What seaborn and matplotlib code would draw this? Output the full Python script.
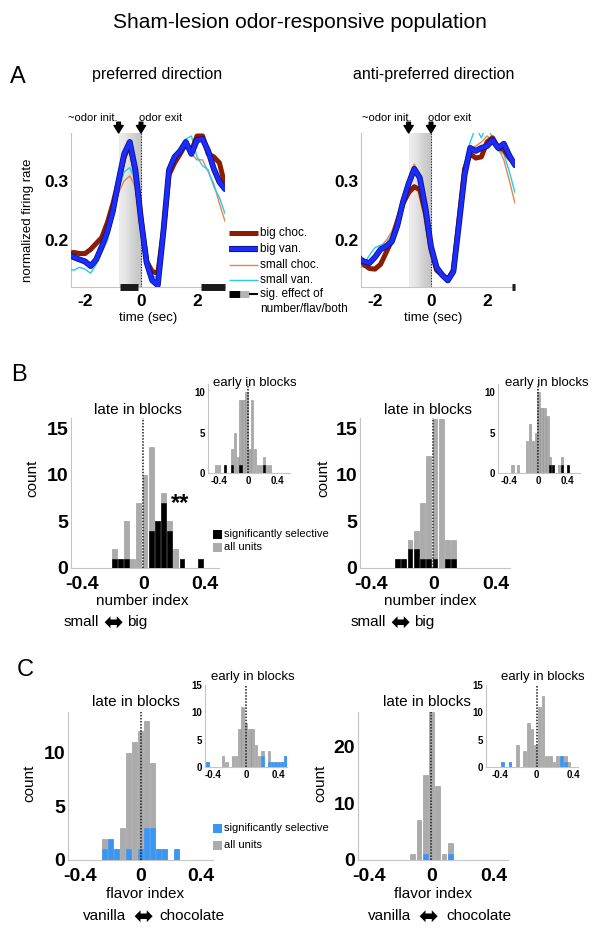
import numpy as np
import pandas as pd
import seaborn as sns
import matplotlib
matplotlib.use('Agg')
import matplotlib.pyplot as plt
from matplotlib.lines import Line2D
from matplotlib.patches import Rectangle
from matplotlib.colors import LinearSegmentedColormap
import matplotlib.patheffects as pe

# ---------------- data: panel A (normalized firing rate vs time) ----------------
time_s = [-2.6, -2.4, -2.2, -2.0, -1.8, -1.6, -1.4, -1.2, -1.0, -0.8, -0.6, -0.4, -0.2, 0.0,
          0.2, 0.4, 0.6, 0.8, 1.0, 1.2, 1.4, 1.6, 1.8, 2.0, 2.2, 2.4, 2.6, 2.8, 3.0]

pref_big_choc = [0.178, 0.180, 0.178, 0.178, 0.185, 0.195, 0.205, 0.230, 0.262, 0.300, 0.340, 0.360,
                 0.315, 0.235, 0.165, 0.148, 0.145, 0.215, 0.310, 0.330, 0.345, 0.362, 0.350, 0.375,
                 0.375, 0.345, 0.340, 0.330, 0.292]
pref_big_van = [0.177, 0.172, 0.168, 0.165, 0.157, 0.168, 0.190, 0.215, 0.250, 0.300, 0.345, 0.365,
                0.318, 0.235, 0.163, 0.133, 0.125, 0.215, 0.318, 0.340, 0.350, 0.365, 0.345, 0.368,
                0.370, 0.350, 0.320, 0.298, 0.286]
pref_small_choc = [0.170, 0.168, 0.165, 0.160, 0.155, 0.165, 0.185, 0.210, 0.245, 0.280, 0.300, 0.308,
                   0.290, 0.225, 0.160, 0.130, 0.128, 0.210, 0.305, 0.330, 0.345, 0.360, 0.345, 0.335,
                   0.335, 0.315, 0.295, 0.262, 0.232]
pref_small_van = [0.152, 0.150, 0.155, 0.152, 0.145, 0.160, 0.180, 0.200, 0.240, 0.285, 0.315, 0.322,
                  0.300, 0.230, 0.170, 0.140, 0.138, 0.215, 0.310, 0.335, 0.355, 0.370, 0.375, 0.340,
                  0.325, 0.318, 0.290, 0.272, 0.245]

anti_big_choc = [0.175, 0.160, 0.153, 0.152, 0.160, 0.180, 0.200, 0.232, 0.262, 0.280, 0.290, 0.285,
                 0.245, 0.185, 0.150, 0.142, 0.135, 0.150, 0.235, 0.320, 0.345, 0.338, 0.340, 0.365,
                 0.372, 0.355, 0.352, 0.338, 0.328]
anti_big_van = [0.170, 0.165, 0.162, 0.172, 0.185, 0.190, 0.198, 0.225, 0.265, 0.295, 0.320, 0.305,
                0.255, 0.190, 0.155, 0.142, 0.133, 0.148, 0.228, 0.310, 0.355, 0.350, 0.355, 0.358,
                0.368, 0.355, 0.362, 0.342, 0.326]
anti_small_choc = [0.158, 0.155, 0.162, 0.175, 0.190, 0.200, 0.215, 0.240, 0.270, 0.300, 0.328, 0.310,
                   0.258, 0.190, 0.155, 0.148, 0.138, 0.150, 0.235, 0.320, 0.352, 0.358, 0.365, 0.375,
                   0.368, 0.355, 0.335, 0.300, 0.262]
anti_small_van = [0.150, 0.160, 0.175, 0.188, 0.192, 0.195, 0.210, 0.235, 0.265, 0.295, 0.320, 0.310,
                  0.255, 0.190, 0.152, 0.145, 0.138, 0.150, 0.240, 0.330, 0.365, 0.390, 0.372, 0.395,
                  0.370, 0.350, 0.345, 0.315, 0.280]

# significant-effect epochs (sec)
pref_sig_epochs = [(-0.75, -0.1), (2.15, 3.0)]
anti_sig_epochs = [(2.88, 3.0)]

# ---------------- data: panels B/C (histograms, bin centre / counts) ----------------
num_late_pref_bins = [-0.19, -0.15, -0.11, -0.07, -0.03, 0.01, 0.05, 0.09, 0.13, 0.17, 0.21, 0.25, 0.37]
num_late_pref_all = [2, 1, 5, 1, 7, 10, 13, 5, 8, 5, 2, 1, 1]
num_late_pref_sig = [1, 1, 1, 0, 0, 0, 4, 5, 7, 4, 0, 1, 1]

num_early_pref_bins = [-0.44, -0.40, -0.32, -0.22, -0.18, -0.14, -0.10, -0.06, -0.02, 0.02, 0.06,
                       0.10, 0.14, 0.18, 0.22, 0.26, 0.30]
num_early_pref_all = [1, 1, 1, 3, 5, 2, 9, 9, 10, 3, 9, 3, 1, 1, 2, 1, 1]
num_early_pref_sig = [0, 0, 1, 1, 0, 0, 1, 0, 0, 0, 0, 0, 0, 0, 1, 0, 0]

num_late_anti_bins = [-0.23, -0.19, -0.15, -0.11, -0.07, -0.03, 0.01, 0.05, 0.09, 0.13]
num_late_anti_all = [1, 1, 3, 4, 7, 12, 16, 16, 3, 3]
num_late_anti_sig = [1, 1, 2, 2, 1, 1, 1, 0, 1, 1]

num_early_anti_bins = [-0.35, -0.27, -0.15, -0.11, -0.07, -0.03, 0.01, 0.05, 0.09, 0.13, 0.17,
                       0.21, 0.29, 0.33, 0.41]
num_early_anti_all = [1, 1, 4, 6, 4, 5, 10, 8, 8, 7, 2, 1, 1, 2, 1]
num_early_anti_sig = [0, 0, 0, 0, 0, 0, 0, 0, 0, 0, 1, 1, 0, 1, 1]

flav_late_pref_bins = [-0.24, -0.20, -0.16, -0.12, -0.08, -0.04, 0.00, 0.04, 0.08, 0.12, 0.16, 0.24]
flav_late_pref_all = [2, 2, 1, 3, 10, 11, 12, 13, 9, 1, 1, 1]
flav_late_pref_sig = [1, 2, 1, 0, 1, 0, 1, 3, 3, 1, 1, 1]

flav_early_pref_bins = [-0.47, -0.28, -0.24, -0.16, -0.12, -0.08, -0.04, 0.00, 0.04, 0.08, 0.12,
                        0.16, 0.20, 0.28, 0.32, 0.36, 0.40, 0.44, 0.48]
flav_early_pref_all = [1, 2, 1, 2, 2, 7, 11, 8, 7, 7, 4, 2, 3, 3, 1, 1, 1, 1, 2]
flav_early_pref_sig = [1, 0, 0, 0, 0, 0, 0, 0, 0, 0, 0, 0, 2, 1, 1, 1, 1, 1, 2]

flav_late_anti_bins = [-0.12, -0.08, -0.04, 0.00, 0.04, 0.08, 0.12]
flav_late_anti_all = [1, 7, 15, 26, 13, 1, 3]
flav_late_anti_sig = [0, 0, 1, 0, 0, 0, 1]

flav_early_anti_bins = [-0.37, -0.29, -0.21, -0.13, -0.09, -0.05, -0.01, 0.03, 0.07, 0.11, 0.15,
                        0.19, 0.23, 0.27, 0.31, 0.35]
flav_early_anti_all = [1, 1, 4, 3, 8, 7, 4, 11, 13, 2, 2, 1, 2, 2, 2, 1]
flav_early_anti_sig = [1, 1, 0, 0, 0, 0, 0, 0, 0, 0, 0, 0, 0, 2, 1, 0]

# ---------------- style ----------------
sns.set_theme(style='white')
plt.rcParams['font.family'] = ['Liberation Sans', 'DejaVu Sans']
plt.rcParams.update({'text.color': 'black', 'axes.labelcolor': 'black',
                     'xtick.color': 'black', 'ytick.color': 'black'})

W, H = 601, 931
BROWN = '#8a1c02'
BLUE = '#1c2bff'
NAVY = '#0a1680'
ORANGE = '#e8844a'
CYAN = '#27c8f2'
ALL_GRAY = '#ababab'
SIG_BLUE = '#3a96f5'
SPINE = '#c4c4c4'


def fx(px):
    return px / W


def fy(py):
    return 1 - py / H


fig = plt.figure(figsize=(W / 100, H / 100), dpi=100)


def add_ax(left, top, right, bottom):
    return fig.add_axes([left / W, 1 - bottom / H, (right - left) / W, (bottom - top) / H])


def style_spines(ax):
    for s in ['top', 'right']:
        ax.spines[s].set_visible(False)
    for s in ['left', 'bottom']:
        ax.spines[s].set_color(SPINE)
        ax.spines[s].set_linewidth(0.8)


def bold_ticks(ax, size, xpad=2):
    ax.tick_params(labelsize=size, length=2, width=0.6, direction='in', color='#999999', pad=2)
    ax.tick_params(axis='x', pad=xpad)
    for t in ax.get_xticklabels() + ax.get_yticklabels():
        t.set_fontweight('bold')


# ---------------- panel A ----------------
shade = LinearSegmentedColormap.from_list('shade', ['#ededed', '#c5c5c5'])
YLIM_A = (0.122, 0.38)


def trace_panel(ax, series, sig_epochs):
    ax.imshow([[0, 1]], extent=[-0.8, 0, YLIM_A[0], YLIM_A[1]], cmap=shade, aspect='auto',
              interpolation='bicubic', zorder=0)
    ax.axvline(0, color='k', ls=(0, (1, 1.5)), lw=0.8, zorder=1)
    small_choc, small_van, big_choc, big_van = series
    sns.lineplot(x=time_s, y=small_choc, ax=ax, color=ORANGE, linewidth=1.0, zorder=3)
    sns.lineplot(x=time_s, y=small_van, ax=ax, color=CYAN, linewidth=1.0, zorder=3)
    sns.lineplot(x=time_s, y=big_choc, ax=ax, color=BROWN, linewidth=3.6, zorder=4)
    sns.lineplot(x=time_s, y=big_van, ax=ax, color=BLUE, linewidth=3.0, zorder=5,
                 path_effects=[pe.Stroke(linewidth=4.2, foreground=NAVY), pe.Normal()])
    ax.set_xlim(-2.5, 3.0)
    ax.set_ylim(*YLIM_A)
    ax.set_xticks([-2, 0, 2])
    ax.set_xticklabels(['-2', '0', '2'])
    ax.set_yticks([0.2, 0.3])
    ax.set_yticklabels(['0.2', '0.3'])
    style_spines(ax)
    bold_ticks(ax, 12.5, xpad=5)
    trans = ax.get_xaxis_transform()
    for a, b in sig_epochs:
        ax.plot([a, b], [0, 0], transform=trans, color='k', lw=5, solid_capstyle='butt',
                clip_on=False, zorder=6)
    for t in (-0.8, 0.0):
        ax.annotate('', xy=(t, 1.0), xycoords=trans, xytext=(t, 1.07), textcoords=trans,
                    arrowprops=dict(arrowstyle='simple,head_width=0.55,head_length=0.45,tail_width=0.22',
                                    color='black', shrinkA=0, shrinkB=0), annotation_clip=False)


axA1 = add_ax(71, 133, 225, 287)
trace_panel(axA1, [pref_small_choc, pref_small_van, pref_big_choc, pref_big_van], pref_sig_epochs)
axA2 = add_ax(361, 133, 515, 287)
trace_panel(axA2, [anti_small_choc, anti_small_van, anti_big_choc, anti_big_van], anti_sig_epochs)

fig.text(fx(300), fy(22), 'Sham-lesion odor-responsive population', fontsize=15, ha='center', va='center')
fig.text(fx(10), fy(77), 'A', fontsize=17, ha='left', va='center')
fig.text(fx(157), fy(75), 'preferred direction', fontsize=11.5, ha='center', va='center')
fig.text(fx(434), fy(75), 'anti-preferred direction', fontsize=11.5, ha='center', va='center')
fig.text(fx(28), fy(220), 'normalized firing rate', fontsize=9.5, rotation=90, ha='center', va='center')
fig.text(fx(148), fy(318), 'time (sec)', fontsize=9.5, ha='center', va='center')
fig.text(fx(433), fy(318), 'time (sec)', fontsize=9.5, ha='center', va='center')
fig.text(fx(93), fy(118), '~odor init.', fontsize=8, ha='center', va='center')
fig.text(fx(161), fy(118), 'odor exit', fontsize=8, ha='center', va='center')
fig.text(fx(387), fy(118), '~odor init.', fontsize=8, ha='center', va='center')
fig.text(fx(450), fy(118), 'odor exit', fontsize=8, ha='center', va='center')

# legend of panel A, drawn by hand
leg_rows = [('big choc.', 233, BROWN, 3.6, None),
            ('big van.', 249, BLUE, 3.0, [pe.Stroke(linewidth=4.4, foreground=NAVY), pe.Normal()]),
            ('small choc.', 265, ORANGE, 1.0, None),
            ('small van.', 280, CYAN, 1.0, None)]
for label, py, col, lw, eff in leg_rows:
    ln = Line2D([fx(229), fx(258)], [fy(py), fy(py)], transform=fig.transFigure, color=col, lw=lw,
                solid_capstyle='butt')
    if eff:
        ln.set_path_effects(eff)
    fig.add_artist(ln)
    fig.text(fx(260), fy(py), label, fontsize=8.5, ha='left', va='center')
for (a, b), col, lw in [((229, 240), 'black', 5), ((240, 249), '#b4b4b4', 5), ((249, 258), 'black', 1.5)]:
    fig.add_artist(Line2D([fx(a), fx(b)], [fy(294), fy(294)], transform=fig.transFigure, color=col,
                          lw=lw, solid_capstyle='butt'))
fig.text(fx(260), fy(294), 'sig. effect of', fontsize=8.5, ha='left', va='center')
fig.text(fx(260), fy(309), 'number/flav/both', fontsize=8.5, ha='left', va='center')


# ---------------- panels B and C ----------------
def draw_hist(ax, bins, all_c, sig_c, sig_color, width, xlim, ylim, yticks, size, xpad=2):
    ax.bar(bins, all_c, width=width, color=ALL_GRAY, edgecolor='#929292', linewidth=0.4, zorder=2)
    ax.bar(bins, sig_c, width=width, color=sig_color, edgecolor=sig_color, linewidth=0.4, zorder=3)
    ax.axvline(0, color='k', ls=(0, (1, 1)), lw=1.1, zorder=4)
    ax.set_xlim(*xlim)
    ax.set_ylim(*ylim)
    ax.set_xticks([-0.4, 0, 0.4])
    ax.set_xticklabels(['-0.4', '0', '0.4'])
    ax.set_yticks(yticks)
    ax.set_yticklabels([str(v) for v in yticks])
    style_spines(ax)
    bold_ticks(ax, size, xpad)


main_w, inset_w = 0.031, 0.032

axB1 = add_ax(71, 418, 219, 568)
draw_hist(axB1, num_late_pref_bins, num_late_pref_all, num_late_pref_sig, 'black', main_w,
          (-0.47, 0.49), (0, 16.1), [0, 5, 10, 15], 14, xpad=6)
axB1.text(0.235, 6.9, '**', fontsize=17, fontweight='bold', ha='center', va='center')
axB1i = add_ax(208, 384, 290, 473)
draw_hist(axB1i, num_early_pref_bins, num_early_pref_all, num_early_pref_sig, 'black', inset_w,
          (-0.55, 0.58), (0, 11), [0, 5, 10], 7)
axB2 = add_ax(360, 418, 510, 568)
draw_hist(axB2, num_late_anti_bins, num_late_anti_all, num_late_anti_sig, 'black', main_w,
          (-0.47, 0.49), (0, 16.1), [0, 5, 10, 15], 14, xpad=6)
axB2i = add_ax(498, 384, 580, 473)
draw_hist(axB2i, num_early_anti_bins, num_early_anti_all, num_early_anti_sig, 'black', inset_w,
          (-0.55, 0.58), (0, 11), [0, 5, 10], 7)

axC1 = add_ax(68, 712, 213, 860)
draw_hist(axC1, flav_late_pref_bins, flav_late_pref_all, flav_late_pref_sig, SIG_BLUE, main_w,
          (-0.48, 0.48), (0, 13.8), [0, 5, 10], 14, xpad=6)
axC1i = add_ax(205, 685, 287, 767)
draw_hist(axC1i, flav_early_pref_bins, flav_early_pref_all, flav_early_pref_sig, SIG_BLUE, 0.03,
          (-0.5, 0.5), (0, 15), [0, 5, 10, 15], 7)
axC2 = add_ax(358, 712, 508, 860)
draw_hist(axC2, flav_late_anti_bins, flav_late_anti_all, flav_late_anti_sig, SIG_BLUE, main_w,
          (-0.47, 0.49), (0, 26), [0, 10, 20], 14, xpad=6)
axC2i = add_ax(486, 685, 578, 767)
draw_hist(axC2i, flav_early_anti_bins, flav_early_anti_all, flav_early_anti_sig, SIG_BLUE, 0.03,
          (-0.55, 0.45), (0, 15), [0, 5, 10, 15], 7)

fig.text(fx(11), fy(375), 'B', fontsize=17, ha='left', va='center')
fig.text(fx(17), fy(670), 'C', fontsize=17, ha='left', va='center')

for cx, cy in [(138, 410), (428, 410), (136, 702), (427, 702)]:
    fig.text(fx(cx), fy(cy), 'late in blocks', fontsize=11, ha='center', va='center')
for cx, cy in [(255, 383), (547, 383), (253, 677), (543, 677)]:
    fig.text(fx(cx), fy(cy), 'early in blocks', fontsize=9.5, ha='center', va='center')
for cx, cy in [(32, 478), (323, 478), (29, 783), (320, 783)]:
    fig.text(fx(cx), fy(cy), 'count', fontsize=11, rotation=90, ha='center', va='center')

fig.text(fx(142), fy(601), 'number index', fontsize=11, ha='center', va='center')
fig.text(fx(430), fy(601), 'number index', fontsize=11, ha='center', va='center')
fig.text(fx(145), fy(894), 'flavor index', fontsize=11, ha='center', va='center')
fig.text(fx(433), fy(894), 'flavor index', fontsize=11, ha='center', va='center')

# "low <-> high" axis captions: words plus a bold double arrow glyph
ARROW = '\u2b0c'
for left_word, right_word, x_left_end, x_arrow, x_right_start, py in [
        ('small', 'big', 99, 113, 127, 622), ('small', 'big', 386, 400, 414, 622),
        ('vanilla', 'chocolate', 126, 143, 159, 916), ('vanilla', 'chocolate', 411, 428, 446, 916)]:
    fig.text(fx(x_left_end), fy(py), left_word, fontsize=11, ha='right', va='center')
    fig.text(fx(x_arrow), fy(py + 1), ARROW, fontsize=17, ha='center', va='center',
             family=['DejaVu Sans'])
    fig.text(fx(x_right_start), fy(py), right_word, fontsize=11, ha='left', va='center')

# legends of B and C
for (py1, py2), sig_col in [((534, 547), 'black'), ((828, 845), SIG_BLUE)]:
    for py, col, label in [(py1, sig_col, 'significantly selective'), (py2, ALL_GRAY, 'all units')]:
        fig.add_artist(Rectangle((fx(213), fy(py + 4.5)), 9 / W, 9 / H, transform=fig.transFigure,
                                 facecolor=col, edgecolor='none'))
        fig.text(fx(224), fy(py), label, fontsize=8, ha='left', va='center')

fig.savefig('out.png', dpi=100)
